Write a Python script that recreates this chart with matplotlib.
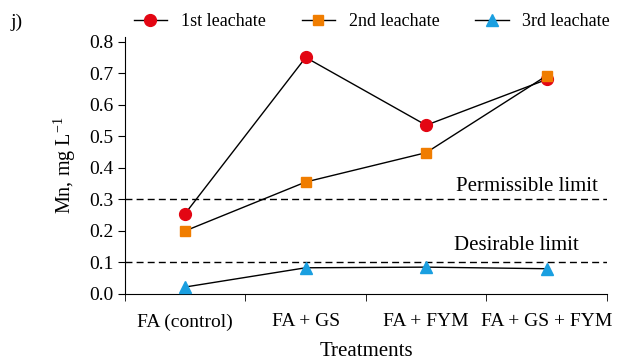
import matplotlib
matplotlib.use("Agg")
import matplotlib.pyplot as plt
import numpy as np

plt.rcParams['font.family'] = ['Liberation Serif', 'DejaVu Serif']
plt.rcParams['mathtext.default'] = 'regular'

treatments = ['FA (control)', 'FA + GS', 'FA + FYM', 'FA + GS + FYM']
first = [0.255, 0.75, 0.535, 0.68]
second = [0.2, 0.355, 0.448, 0.692]
third = [0.022, 0.083, 0.085, 0.08]
permissible = 0.3
desirable = 0.1

red = '#e30613'
orange = '#f07d00'
blue = '#1a9fe0'

fig = plt.figure(figsize=(6.25, 3.62), dpi=100)
ax = fig.add_axes([0.2, 0.188, 0.771, 0.71])

x = np.arange(len(treatments))
ax.axhline(permissible, color='black', lw=1, ls=(0, (5, 3)))
ax.axhline(desirable, color='black', lw=1, ls=(0, (5, 3)))

ax.plot(x, first, color='black', lw=1, marker='o', ms=8.5, mfc=red, mec=red,
        label='1st leachate', zorder=3)
ax.plot(x, second, color='black', lw=1, marker='s', ms=7.5, mfc=orange, mec=orange,
        label='2nd leachate', zorder=3)
ax.plot(x, third, color='black', lw=1, marker='^', ms=8, mfc=blue, mec=blue,
        label='3rd leachate', zorder=3)

ax.text(2.836, 0.34, 'Permissible limit', ha='center', va='center', fontsize=15)
ax.text(2.75, 0.155, 'Desirable limit', ha='center', va='center', fontsize=15)

ax.set_xlim(-0.5, 3.5)
ax.set_ylim(0, 0.815)
ax.set_yticks(np.arange(0, 0.81, 0.1))
ax.set_yticklabels(['%.1f' % v for v in np.arange(0, 0.81, 0.1)])
ax.set_xticks(x)
ax.set_xticklabels(treatments)
ax.set_xticks(np.arange(-0.5, 3.6, 1), minor=True)
ax.tick_params(axis='x', which='major', length=0, pad=14, labelsize=14)
ax.tick_params(axis='x', which='minor', length=5, direction='out')
ax.tick_params(axis='y', length=5, direction='out', labelsize=14)

for s in ['top', 'right']:
    ax.spines[s].set_visible(False)

ax.set_ylabel('Mn, mg L$^{-1}$', fontsize=14.5, labelpad=8)
ax.set_xlabel('Treatments', fontsize=15, labelpad=8)

fig.legend(loc='center', bbox_to_anchor=(0.595, 0.94), ncol=3, frameon=False,
           fontsize=13, handlelength=1.85, handletextpad=0.75, columnspacing=2.0)
fig.text(0.016, 0.925, 'j)', fontsize=14)

fig.savefig('out.png', dpi=100)
